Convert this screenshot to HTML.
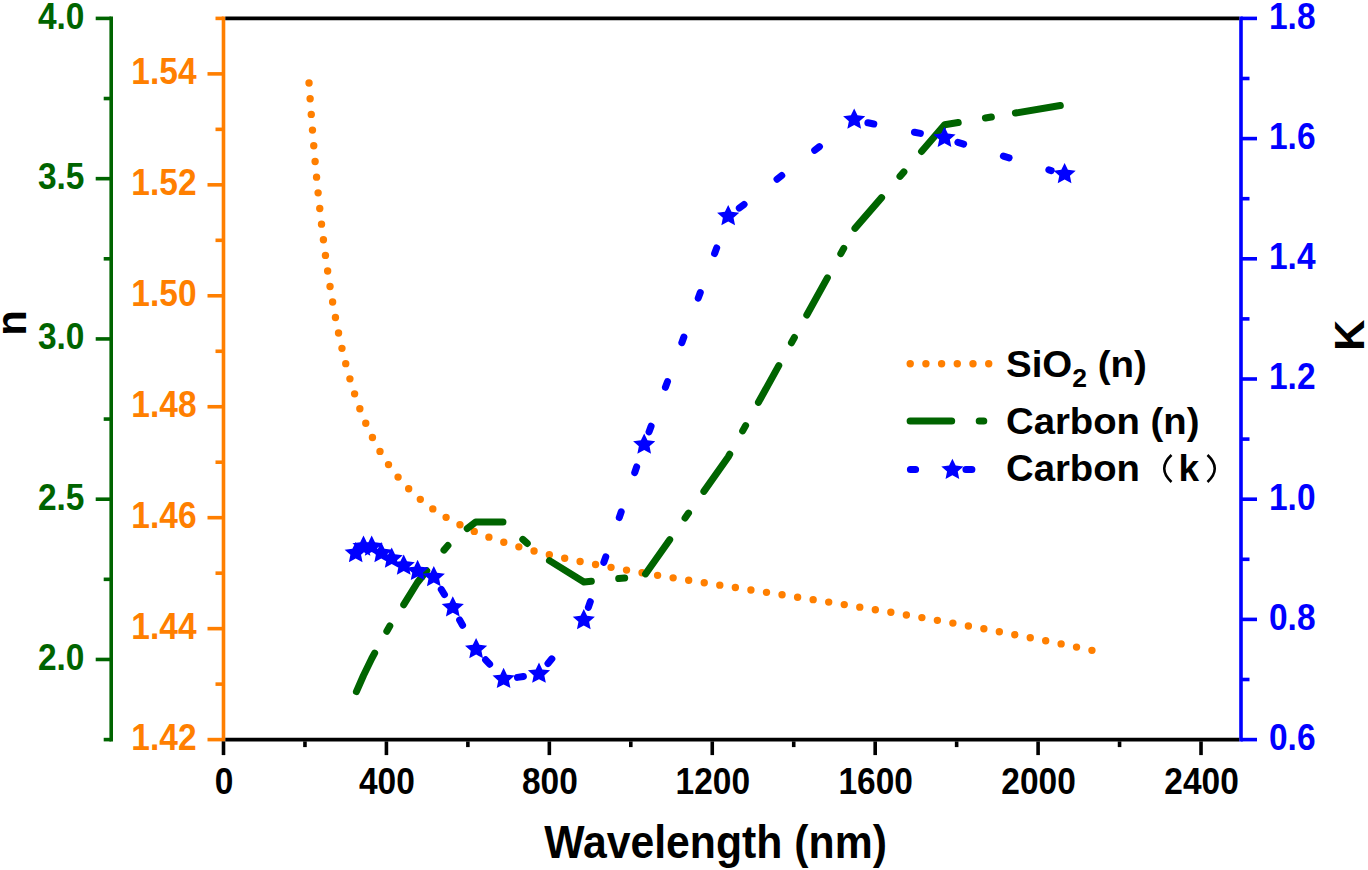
<!DOCTYPE html><html><head><meta charset="utf-8"><style>html,body{margin:0;padding:0;background:#fff;overflow:hidden;width:1368px;height:870px;}svg{display:block;}</style></head><body><svg width="1368" height="870" viewBox="0 0 1368 870">
<rect width="100%" height="100%" fill="#fff"/>
<path d="M309.03 82.99 L309.30 86.86 L309.56 90.68 L309.82 94.46 L310.08 98.18 L310.34 101.86 L310.61 105.49 L310.87 109.07 L311.13 112.61 L311.39 116.11 L311.65 119.56 L311.92 122.97 L312.18 126.34 L312.44 129.67 L312.70 132.96 L312.96 136.21 L313.23 139.41 L313.49 142.59 L313.75 145.72 L314.01 148.82 L314.28 151.88 L314.54 154.90 L314.80 157.89 L315.06 160.84 L315.32 163.76 L315.59 166.65 L315.85 169.51 L316.11 172.33 L316.37 175.12 L316.63 177.88 L316.90 180.61 L317.16 183.30 L317.42 185.97 L317.68 188.61 L317.94 191.22 L318.21 193.80 L318.47 196.36 L318.73 198.88 L318.99 201.38 L319.26 203.85 L319.52 206.30 L319.78 208.72 L320.04 211.11 L320.30 213.48 L320.57 215.83 L320.83 218.15 L321.09 220.44 L321.35 222.72 L321.61 224.96 L321.88 227.19 L322.14 229.39 L322.40 231.57 L322.66 233.73 L322.93 235.87 L323.19 237.99 L323.45 240.08 L323.71 242.15 L323.97 244.21 L324.24 246.24 L324.50 248.25 L324.76 250.25 L325.02 252.22 L325.28 254.17 L325.55 256.11 L325.81 258.03 L326.07 259.93 L326.33 261.81 L326.59 263.67 L326.86 265.52 L327.12 267.34 L327.38 269.15 L327.64 270.95 L327.91 272.72 L328.17 274.48 L328.43 276.23 L328.69 277.96 L328.95 279.67 L329.22 281.37 L329.48 283.05 L329.74 284.71 L330.00 286.36 L330.26 288.00 L330.53 289.62 L330.79 291.23 L331.05 292.82 L331.31 294.40 L331.58 295.96 L331.84 297.51 L332.10 299.05 L332.36 300.57 L332.62 302.08 L332.89 303.58 L333.15 305.07 L333.41 306.54 L333.67 308.00 L333.93 309.44 L334.20 310.88 L334.46 312.30 L334.72 313.71 L334.98 315.10 L335.24 316.49 L335.51 317.86 L335.77 319.23 L336.03 320.58 L336.29 321.92 L336.56 323.25 L336.82 324.57 L337.08 325.87 L337.34 327.17 L337.60 328.46 L337.87 329.73 L338.13 331.00 L338.39 332.25 L338.65 333.50 L338.91 334.73 L339.18 335.95 L339.44 337.17 L339.70 338.37 L339.96 339.57 L340.22 340.76 L340.49 341.93 L340.75 343.10 L341.01 344.26 L341.27 345.41 L341.54 346.55 L341.80 347.68 L342.06 348.80 L342.32 349.92 L342.58 351.02 L342.85 352.12 L343.11 353.21 L343.37 354.29 L343.63 355.36 L343.89 356.43 L344.16 357.48 L344.42 358.53 L344.68 359.57 L344.94 360.60 L345.21 361.63 L345.47 362.65 L345.73 363.66 L345.99 364.66 L346.25 365.65 L346.52 366.64 L346.78 367.62 L347.04 368.59 L347.30 369.56 L347.56 370.52 L347.83 371.47 L348.09 372.42 L348.35 373.35 L348.61 374.29 L348.87 375.21 L349.14 376.13 L349.40 377.04 L349.66 377.95 L349.92 378.85 L350.19 379.74 L350.45 380.62 L350.71 381.50 L350.97 382.38 L351.23 383.25 L351.50 384.11 L351.76 384.96 L352.02 385.81 L352.28 386.66 L352.54 387.49 L352.81 388.33 L353.07 389.15 L353.33 389.97 L353.59 390.79 L353.86 391.60 L354.12 392.40 L354.38 393.20 L354.64 394.00 L354.90 394.78 L355.17 395.57 L355.43 396.34 L355.69 397.12 L355.95 397.88 L356.21 398.65 L356.48 399.40 L356.74 400.16 L357.00 400.90 L357.26 401.65 L357.52 402.38 L357.79 403.12 L358.05 403.84 L358.31 404.57 L358.57 405.29 L358.84 406.00 L359.10 406.71 L359.36 407.41 L359.62 408.11 L359.88 408.81 L360.15 409.50 L360.41 410.19 L360.67 410.87 L360.93 411.55 L361.19 412.22 L361.46 412.89 L361.72 413.56 L361.98 414.22 L362.24 414.87 L362.50 415.53 L362.77 416.18 L363.03 416.82 L363.29 417.46 L363.55 418.10 L363.82 418.73 L364.08 419.36 L364.34 419.99 L364.60 420.61 L364.86 421.22 L365.13 421.84 L365.39 422.45 L365.65 423.05 L365.91 423.66 L366.17 424.26 L366.44 424.85 L366.70 425.44 L366.96 426.03 L367.22 426.62 L367.49 427.20 L367.75 427.78 L368.01 428.35 L368.27 428.92 L368.53 429.49 L368.80 430.05 L369.06 430.62 L369.32 431.17 L369.58 431.73 L369.84 432.28 L370.11 432.83 L370.37 433.37 L370.63 433.91 L370.89 434.45 L371.15 434.99 L371.42 435.52 L371.68 436.05 L371.94 436.58 L372.20 437.10 L372.47 437.62 L372.73 438.14 L372.99 438.65 L373.25 439.16 L373.51 439.67 L373.78 440.18 L374.04 440.68 L374.30 441.18 L374.56 441.68 L374.82 442.17 L375.09 442.66 L375.35 443.15 L375.61 443.64 L375.87 444.12 L376.13 444.60 L376.40 445.08 L376.66 445.56 L376.92 446.03 L377.18 446.50 L377.45 446.97 L377.71 447.43 L377.97 447.90 L378.23 448.36 L378.49 448.82 L378.76 449.27 L379.02 449.72 L379.28 450.17 L379.54 450.62 L379.80 451.07 L380.07 451.51 L380.33 451.95 L380.59 452.39 L380.85 452.83 L381.12 453.26 L381.38 453.69 L381.64 454.12 L381.90 454.55 L382.16 454.97 L382.43 455.40 L382.69 455.82 L382.95 456.23 L383.21 456.65 L383.47 457.06 L383.74 457.48 L384.00 457.89 L384.26 458.29 L384.52 458.70 L384.78 459.10 L385.05 459.50 L385.31 459.90 L385.57 460.30 L385.83 460.69 L386.10 461.09 L386.36 461.48 L386.62 461.87 L386.88 462.25 L387.14 462.64 L387.41 463.02 L387.67 463.40 L387.93 463.78 L388.19 464.16 L388.45 464.54 L388.72 464.91 L388.98 465.28 L389.24 465.65 L389.50 466.02 L389.77 466.39 L390.03 466.75 L390.29 467.11 L390.55 467.48 L390.81 467.83 L391.08 468.19 L391.34 468.55 L391.60 468.90 L391.86 469.25 L392.12 469.60 L392.39 469.95 L392.65 470.30 L392.91 470.65 L393.17 470.99 L393.43 471.33 L393.70 471.67 L393.96 472.01 L394.22 472.35 L394.48 472.69 L394.75 473.02 L395.01 473.35 L395.27 473.68 L395.53 474.01 L395.79 474.34 L396.06 474.67 L396.32 474.99 L396.58 475.31 L396.84 475.64 L397.10 475.96 L397.37 476.28 L397.63 476.59 L397.89 476.91 L398.15 477.22 L398.41 477.54 L398.68 477.85 L398.94 478.16 L399.20 478.47 L399.46 478.77 L399.73 479.08 L399.99 479.38 L400.25 479.69 L400.51 479.99 L400.77 480.29 L401.04 480.59 L401.30 480.88 L401.56 481.18 L401.82 481.47 L402.08 481.77 L402.35 482.06 L402.61 482.35 L402.87 482.64 L403.13 482.93 L403.40 483.22 L403.66 483.50 L403.92 483.79 L404.18 484.07 L404.44 484.35 L404.71 484.63 L404.97 484.91 L405.23 485.19 L405.49 485.47 L405.75 485.74 L406.02 486.02 L406.28 486.29 L406.54 486.56 L406.80 486.83 L407.06 487.10 L407.33 487.37 L407.59 487.64 L407.85 487.91 L408.11 488.17 L408.38 488.44 L408.64 488.70 L408.90 488.96 L409.16 489.22 L409.42 489.48 L409.69 489.74 L409.95 490.00 L410.21 490.25 L410.47 490.51 L410.73 490.76 L411.00 491.02 L411.26 491.27 L411.52 491.52 L411.78 491.77 L412.04 492.02 L412.31 492.27 L412.57 492.51 L412.83 492.76 L413.09 493.00 L413.36 493.25 L413.62 493.49 L413.88 493.73 L414.14 493.97 L414.40 494.21 L414.67 494.45 L414.93 494.69 L415.19 494.92 L415.45 495.16 L415.71 495.40 L415.98 495.63 L416.24 495.86 L416.50 496.09 L416.76 496.33 L417.03 496.56 L417.29 496.78 L417.55 497.01 L417.81 497.24 L418.07 497.47 L418.34 497.69 L418.60 497.92 L418.86 498.14 L419.12 498.36 L419.38 498.59 L419.65 498.81 L419.91 499.03 L420.17 499.25 L420.43 499.47 L420.69 499.68 L420.96 499.90 L421.22 500.12 L421.48 500.33 L421.74 500.54 L422.01 500.76 L422.27 500.97 L422.53 501.18 L422.79 501.39 L423.05 501.60 L423.32 501.81 L423.58 502.02 L423.84 502.23 L424.10 502.44 L424.36 502.64 L424.63 502.85 L424.89 503.05 L425.15 503.26 L425.41 503.46 L425.68 503.66 L425.94 503.86 L426.20 504.06 L426.46 504.26 L426.72 504.46 L426.99 504.66 L427.25 504.86 L427.51 505.06 L427.77 505.25 L428.03 505.45 L428.30 505.64 L428.56 505.84 L428.82 506.03 L429.08 506.22 L429.34 506.41 L429.61 506.61 L429.87 506.80 L430.13 506.99 L430.39 507.18 L430.66 507.36 L430.92 507.55 L431.18 507.74 L431.44 507.93 L431.70 508.11 L431.97 508.30 L432.23 508.48 L432.49 508.66 L432.75 508.85 L433.01 509.03 L433.28 509.21 L433.54 509.39 L433.80 509.57 L434.06 509.75 L434.32 509.93 L434.59 510.11 L434.85 510.29 L435.11 510.46 L435.37 510.64 L435.64 510.82 L435.90 510.99 L436.16 511.17 L436.42 511.34 L436.68 511.51 L436.95 511.69 L437.21 511.86 L437.47 512.03 L437.73 512.20 L437.99 512.37 L438.26 512.54 L438.52 512.71 L438.78 512.88 L439.04 513.05 L439.31 513.22 L439.57 513.38 L439.83 513.55 L440.09 513.72 L440.35 513.88 L440.62 514.05 L440.88 514.21 L441.14 514.37 L441.40 514.54 L441.66 514.70 L441.93 514.86 L442.19 515.02 L442.45 515.18 L442.71 515.34 L442.97 515.50 L443.24 515.66 L443.50 515.82 L443.76 515.98 L444.02 516.14 L444.29 516.29 L444.55 516.45 L444.81 516.61 L445.07 516.76 L445.33 516.92 L445.60 517.07 L445.86 517.22 L446.12 517.38 L446.38 517.53 L446.64 517.68 L446.91 517.84 L447.17 517.99 L447.43 518.14 L447.69 518.29 L447.96 518.44 L448.22 518.59 L448.48 518.74 L448.74 518.89 L449.00 519.03 L449.27 519.18 L449.53 519.33 L449.79 519.48 L450.05 519.62 L450.31 519.77 L450.58 519.91 L450.84 520.06 L451.10 520.20 L451.36 520.35 L451.62 520.49 L451.89 520.63 L452.15 520.77 L452.41 520.92 L452.67 521.06 L452.94 521.20 L453.20 521.34 L453.46 521.48 L453.72 521.62 L453.98 521.76 L454.25 521.90 L454.51 522.04 L454.77 522.17 L455.03 522.31 L455.29 522.45 L455.56 522.59 L455.82 522.72 L456.08 522.86 L456.34 522.99 L456.60 523.13 L456.87 523.26 L457.13 523.40 L457.39 523.53 L457.65 523.67 L457.92 523.80 L458.18 523.93 L458.44 524.06 L458.70 524.20 L458.96 524.33 L459.23 524.46 L459.49 524.59 L459.75 524.72 L460.01 524.85 L460.27 524.98 L460.54 525.11 L460.80 525.24 L461.06 525.37 L461.32 525.49 L461.59 525.62 L461.85 525.75 L462.11 525.88 L462.37 526.00 L462.63 526.13 L462.90 526.25 L463.16 526.38 L463.42 526.50 L463.68 526.63 L463.94 526.75 L464.21 526.88 L464.47 527.00 L464.73 527.12 L464.99 527.25 L465.25 527.37 L465.52 527.49 L465.78 527.61 L466.04 527.74 L466.30 527.86 L466.57 527.98 L466.83 528.10 L467.09 528.22 L467.35 528.34 L467.61 528.46 L467.88 528.58 L468.14 528.70 L468.40 528.81 L468.66 528.93 L468.92 529.05 L469.19 529.17 L469.45 529.28 L469.71 529.40 L469.97 529.52 L470.23 529.63 L470.50 529.75 L470.76 529.86 L471.02 529.98 L471.28 530.09 L471.55 530.21 L471.81 530.32 L472.07 530.44 L472.33 530.55 L472.59 530.66 L472.86 530.78 L473.12 530.89 L473.38 531.00 L473.64 531.11 L473.90 531.23 L474.17 531.34 L474.43 531.45 L474.69 531.56 L474.95 531.67 L475.22 531.78 L475.48 531.89 L475.74 532.00 L476.00 532.11 L476.26 532.22 L476.53 532.33 L476.79 532.44 L477.05 532.54 L477.31 532.65 L477.57 532.76 L477.84 532.87 L478.10 532.97 L478.36 533.08 L478.62 533.19 L478.88 533.29 L479.15 533.40 L479.41 533.51 L479.67 533.61 L479.93 533.72 L480.20 533.82 L480.46 533.93 L480.72 534.03 L480.98 534.13 L481.24 534.24 L481.51 534.34 L481.77 534.44 L482.03 534.55 L482.29 534.65 L482.55 534.75 L482.82 534.85 L483.08 534.96 L483.34 535.06 L483.60 535.16 L483.87 535.26 L484.13 535.36 L484.39 535.46 L484.65 535.56 L484.91 535.66 L485.18 535.76 L485.44 535.86 L485.70 535.96 L485.96 536.06 L486.22 536.16 L486.49 536.26 L486.75 536.36 L487.01 536.46 L487.27 536.55 L487.53 536.65 L487.80 536.75 L488.06 536.85 L488.32 536.94 L488.58 537.04 L488.85 537.14 L489.11 537.23 L489.37 537.33 L489.63 537.42 L489.89 537.52 L490.16 537.62 L490.42 537.71 L490.68 537.81 L490.94 537.90 L491.20 538.00 L491.47 538.09 L491.73 538.18 L491.99 538.28 L492.25 538.37 L492.51 538.46 L492.78 538.56 L493.04 538.65 L493.30 538.74 L493.56 538.84 L493.83 538.93 L494.09 539.02 L494.35 539.11 L494.61 539.20 L494.87 539.29 L495.14 539.39 L495.40 539.48 L495.66 539.57 L495.92 539.66 L496.18 539.75 L496.45 539.84 L496.71 539.93 L496.97 540.02 L497.23 540.11 L497.50 540.20 L497.76 540.29 L498.02 540.37 L498.28 540.46 L498.54 540.55 L498.81 540.64 L499.07 540.73 L499.33 540.82 L499.59 540.90 L499.85 540.99 L500.12 541.08 L500.38 541.17 L500.64 541.25 L500.90 541.34 L501.16 541.43 L501.43 541.51 L501.69 541.60 L501.95 541.69 L502.21 541.77 L502.48 541.86 L502.74 541.94 L503.00 542.03 L503.26 542.11 L503.52 542.20 L503.79 542.28 L504.05 542.37 L504.31 542.45 L504.57 542.53 L504.83 542.62 L505.10 542.70 L505.36 542.79 L505.62 542.87 L505.88 542.95 L506.15 543.04 L506.41 543.12 L506.67 543.20 L506.93 543.28 L507.19 543.37 L507.46 543.45 L507.72 543.53 L507.98 543.61 L508.24 543.69 L508.50 543.78 L508.77 543.86 L509.03 543.94 L509.29 544.02 L509.55 544.10 L509.81 544.18 L510.08 544.26 L510.34 544.34 L510.60 544.42 L510.86 544.50 L511.13 544.58 L511.39 544.66 L511.65 544.74 L511.91 544.82 L512.17 544.90 L512.44 544.98 L512.70 545.06 L512.96 545.14 L513.22 545.21 L513.48 545.29 L513.75 545.37 L514.01 545.45 L514.27 545.53 L514.53 545.60 L514.79 545.68 L515.06 545.76 L515.32 545.84 L515.58 545.91 L515.84 545.99 L516.11 546.07 L516.37 546.14 L516.63 546.22 L516.89 546.30 L517.15 546.37 L517.42 546.45 L517.68 546.53 L517.94 546.60 L518.20 546.68 L518.46 546.75 L518.73 546.83 L518.99 546.90 L519.25 546.98 L519.51 547.05 L519.78 547.13 L520.04 547.20 L520.30 547.28 L520.56 547.35 L520.82 547.43 L521.09 547.50 L521.35 547.57 L521.61 547.65 L521.87 547.72 L522.13 547.79 L522.40 547.87 L522.66 547.94 L522.92 548.01 L523.18 548.09 L523.44 548.16 L523.71 548.23 L523.97 548.30 L524.23 548.38 L524.49 548.45 L524.76 548.52 L525.02 548.59 L525.28 548.67 L525.54 548.74 L525.80 548.81 L526.07 548.88 L526.33 548.95 L526.59 549.02 L526.85 549.09 L527.11 549.16 L527.38 549.24 L527.64 549.31 L527.90 549.38 L528.16 549.45 L528.42 549.52 L528.69 549.59 L528.95 549.66 L529.21 549.73 L529.47 549.80 L529.74 549.87 L530.00 549.94 L530.26 550.01 L530.52 550.08 L530.78 550.15 L531.05 550.21 L531.31 550.28 L531.57 550.35 L531.83 550.42 L532.09 550.49 L532.36 550.56 L532.62 550.63 L532.88 550.70 L533.14 550.76 L533.41 550.83 L533.67 550.90 L533.93 550.97 L534.19 551.03 L534.45 551.10 L534.72 551.17 L534.98 551.24 L535.24 551.30 L535.50 551.37 L535.76 551.44 L536.03 551.51 L536.29 551.57 L536.55 551.64 L536.81 551.71 L537.07 551.77 L537.34 551.84 L537.60 551.90 L537.86 551.97 L538.12 552.04 L538.39 552.10 L538.65 552.17 L538.91 552.23 L539.17 552.30 L539.43 552.37 L539.70 552.43 L539.96 552.50 L540.22 552.56 L540.48 552.63 L540.74 552.69 L541.01 552.76 L541.27 552.82 L541.53 552.89 L541.79 552.95 L542.06 553.01 L542.32 553.08 L542.58 553.14 L542.84 553.21 L543.10 553.27 L543.37 553.34 L543.63 553.40 L543.89 553.46 L544.15 553.53 L544.41 553.59 L544.68 553.65 L544.94 553.72 L545.20 553.78 L545.46 553.84 L545.72 553.91 L545.99 553.97 L546.25 554.03 L546.51 554.09 L546.77 554.16 L547.04 554.22 L547.30 554.28 L547.56 554.34 L547.82 554.41 L548.08 554.47 L548.35 554.53 L548.61 554.59 L548.87 554.66 L549.13 554.72 L549.39 554.78 L549.66 554.84 L549.92 554.90 L550.18 554.96 L550.44 555.02 L550.70 555.09 L550.97 555.15 L551.23 555.21 L551.49 555.27 L551.75 555.33 L552.02 555.39 L552.28 555.45 L552.54 555.51 L552.80 555.57 L553.06 555.63 L553.33 555.69 L553.59 555.75 L553.85 555.81 L554.11 555.87 L554.37 555.93 L554.64 555.99 L554.90 556.05 L555.16 556.11 L555.42 556.17 L555.69 556.23 L555.95 556.29 L556.21 556.35 L556.47 556.41 L556.73 556.47 L557.00 556.53 L557.26 556.59 L557.52 556.65 L557.78 556.71 L558.04 556.77 L558.31 556.83 L558.57 556.88 L558.83 556.94 L559.09 557.00 L559.35 557.06 L559.62 557.12 L559.88 557.18 L560.14 557.24 L560.40 557.29 L560.67 557.35 L560.93 557.41 L561.19 557.47 L561.45 557.53 L561.71 557.58 L561.98 557.64 L562.24 557.70 L562.50 557.76 L562.76 557.81 L563.02 557.87 L563.29 557.93 L563.55 557.99 L563.81 558.04 L564.07 558.10 L564.33 558.16 L564.60 558.21 L564.86 558.27 L565.12 558.33 L565.38 558.38 L565.65 558.44 L565.91 558.50 L566.17 558.55 L566.43 558.61 L566.69 558.67 L566.96 558.72 L567.22 558.78 L567.48 558.84 L567.74 558.89 L568.00 558.95 L568.27 559.00 L568.53 559.06 L568.79 559.12 L569.05 559.17 L569.32 559.23 L569.58 559.28 L569.84 559.34 L570.10 559.39 L570.36 559.45 L570.63 559.50 L570.89 559.56 L571.15 559.61 L571.41 559.67 L571.67 559.72 L571.94 559.78 L572.20 559.83 L572.46 559.89 L572.72 559.94 L572.98 560.00 L573.25 560.05 L573.51 560.11 L573.77 560.16 L574.03 560.22 L574.30 560.27 L574.56 560.33 L574.82 560.38 L575.08 560.44 L575.34 560.49 L575.61 560.54 L575.87 560.60 L576.13 560.65 L576.39 560.71 L576.65 560.76 L576.92 560.81 L577.18 560.87 L577.44 560.92 L577.70 560.97 L577.97 561.03 L578.23 561.08 L578.49 561.13 L578.75 561.19 L579.01 561.24 L579.28 561.29 L579.54 561.35 L579.80 561.40 L580.06 561.45 L580.32 561.51 L580.59 561.56 L580.85 561.61 L581.11 561.67 L581.37 561.72 L581.63 561.77 L581.90 561.82 L582.16 561.88 L582.42 561.93 L582.68 561.98 L582.95 562.03 L583.21 562.09 L583.47 562.14 L583.73 562.19 L583.99 562.24 L584.26 562.30 L584.52 562.35 L584.78 562.40 L585.04 562.45 L585.30 562.50 L585.57 562.56 L585.83 562.61 L586.09 562.66 L586.35 562.71 L586.61 562.76 L586.88 562.81 L587.14 562.87 L587.40 562.92 L587.66 562.97 L587.93 563.02 L588.19 563.07 L588.45 563.12 L588.71 563.17 L588.97 563.23 L589.24 563.28 L589.50 563.33 L589.76 563.38 L590.02 563.43 L590.28 563.48 L590.55 563.53 L590.81 563.58 L591.07 563.63 L591.33 563.68 L591.60 563.73 L591.86 563.79 L592.12 563.84 L592.38 563.89 L592.64 563.94 L592.91 563.99 L593.17 564.04 L593.43 564.09 L593.69 564.14 L593.95 564.19 L594.22 564.24 L594.48 564.29 L594.74 564.34 L595.00 564.39 L595.26 564.44 L595.53 564.49 L595.79 564.54 L596.05 564.59 L596.31 564.64 L596.58 564.69 L596.84 564.74 L597.10 564.79 L597.36 564.84 L597.62 564.89 L597.89 564.94 L598.15 564.99 L598.41 565.04 L598.67 565.09 L598.93 565.13 L599.20 565.18 L599.46 565.23 L599.72 565.28 L599.98 565.33 L600.25 565.38 L600.51 565.43 L600.77 565.48 L601.03 565.53 L601.29 565.58 L601.56 565.63 L601.82 565.68 L602.08 565.72 L602.34 565.77 L602.60 565.82 L602.87 565.87 L603.13 565.92 L603.39 565.97 L603.65 566.02 L603.91 566.06 L604.18 566.11 L604.44 566.16 L604.70 566.21 L604.96 566.26 L605.23 566.31 L605.49 566.36 L605.75 566.40 L606.01 566.45 L606.27 566.50 L606.54 566.55 L606.80 566.60 L607.06 566.64 L607.32 566.69 L607.58 566.74 L607.85 566.79 L608.11 566.84 L608.37 566.88 L608.63 566.93 L608.89 566.98 L609.16 567.03 L609.42 567.08 L609.68 567.12 L609.94 567.17 L610.21 567.22 L610.47 567.27 L610.73 567.31 L610.99 567.36 L611.25 567.41 L611.52 567.46 L611.78 567.50 L612.04 567.55 L612.30 567.60 L612.56 567.65 L612.83 567.69 L613.09 567.74 L613.35 567.79 L613.61 567.83 L613.88 567.88 L614.14 567.93 L614.40 567.98 L614.66 568.02 L614.92 568.07 L615.19 568.12 L615.45 568.16 L615.71 568.21 L615.97 568.26 L616.23 568.30 L616.50 568.35 L616.76 568.40 L617.02 568.44 L617.28 568.49 L617.54 568.54 L617.81 568.58 L618.07 568.63 L618.33 568.68 L618.59 568.72 L618.86 568.77 L619.12 568.82 L619.38 568.86 L619.64 568.91 L619.90 568.96 L620.17 569.00 L620.43 569.05 L620.69 569.09 L620.95 569.14 L621.21 569.19 L621.48 569.23 L621.74 569.28 L622.00 569.32 L622.26 569.37 L622.52 569.42 L622.79 569.46 L623.05 569.51 L623.31 569.55 L623.57 569.60 L623.84 569.65 L624.10 569.69 L624.36 569.74 L624.62 569.78 L624.88 569.83 L625.15 569.88 L625.41 569.92 L625.67 569.97 L625.93 570.01 L626.19 570.06 L626.46 570.10 L626.72 570.15 L626.98 570.19 L627.24 570.24 L627.51 570.28 L627.77 570.33 L628.03 570.38 L628.29 570.42 L628.55 570.47 L628.82 570.51 L629.08 570.56 L629.34 570.60 L629.60 570.65 L629.86 570.69 L630.13 570.74 L630.39 570.78 L630.65 570.83 L630.91 570.87 L631.17 570.92 L631.44 570.96 L631.70 571.01 L631.96 571.05 L632.22 571.10 L632.49 571.14 L632.75 571.19 L633.01 571.23 L633.27 571.28 L633.53 571.32 L633.80 571.37 L634.06 571.41 L634.32 571.46 L634.58 571.50 L634.84 571.55 L635.11 571.59 L635.37 571.63 L635.63 571.68 L635.89 571.72 L636.16 571.77 L636.42 571.81 L636.68 571.86 L636.94 571.90 L637.20 571.95 L637.47 571.99 L637.73 572.04 L637.99 572.08 L638.25 572.12 L638.51 572.17 L638.78 572.21 L639.04 572.26 L639.30 572.30 L639.56 572.35 L639.82 572.39 L640.09 572.43 L640.35 572.48 L640.61 572.52 L640.87 572.57 L641.14 572.61 L641.40 572.65 L641.66 572.70 L641.92 572.74 L642.18 572.79 L642.45 572.83 L642.71 572.87 L642.97 572.92 L643.23 572.96 L643.49 573.01 L643.76 573.05 L644.02 573.09 L644.28 573.14 L644.54 573.18 L644.80 573.22 L645.07 573.27 L645.33 573.31 L645.59 573.36 L645.85 573.40 L646.12 573.44 L646.38 573.49 L646.64 573.53 L646.90 573.57 L647.16 573.62 L647.43 573.66 L647.69 573.70 L647.95 573.75 L648.21 573.79 L648.47 573.84 L648.74 573.88 L649.00 573.92 L649.26 573.97 L649.52 574.01 L649.79 574.05 L650.05 574.10 L650.31 574.14 L650.57 574.18 L650.83 574.23 L651.10 574.27 L651.36 574.31 L651.62 574.36 L651.88 574.40 L652.14 574.44 L652.41 574.48 L652.67 574.53 L652.93 574.57 L653.19 574.61 L653.45 574.66 L653.72 574.70 L653.98 574.74 L654.24 574.79 L654.50 574.83 L654.77 574.87 L655.03 574.92 L655.29 574.96 L655.55 575.00 L655.81 575.04 L656.08 575.09 L656.34 575.13 L656.60 575.17 L656.86 575.22 L657.12 575.26 L657.39 575.30 L657.65 575.34 L657.91 575.39 L658.17 575.43 L658.44 575.47 L658.70 575.52 L658.96 575.56 L659.22 575.60 L659.48 575.64 L659.75 575.69 L660.01 575.73 L660.27 575.77 L660.53 575.81 L660.79 575.86 L661.06 575.90 L661.32 575.94 L661.58 575.98 L661.84 576.03 L662.10 576.07 L662.37 576.11 L662.63 576.15 L662.89 576.20 L663.15 576.24 L663.42 576.28 L663.68 576.32 L663.94 576.37 L664.20 576.41 L664.46 576.45 L664.73 576.49 L664.99 576.54 L665.25 576.58 L665.51 576.62 L665.77 576.66 L666.04 576.70 L666.30 576.75 L666.56 576.79 L666.82 576.83 L667.08 576.87 L667.35 576.92 L667.61 576.96 L667.87 577.00 L668.13 577.04 L668.40 577.08 L668.66 577.13 L668.92 577.17 L669.18 577.21 L669.44 577.25 L669.71 577.29 L669.97 577.34 L670.23 577.38 L670.49 577.42 L670.75 577.46 L671.02 577.51 L671.28 577.55 L671.54 577.59 L671.80 577.63 L672.07 577.67 L672.33 577.71 L672.59 577.76 L672.85 577.80 L673.11 577.84 L673.38 577.88 L673.64 577.92 L673.90 577.97 L674.16 578.01 L674.42 578.05 L674.69 578.09 L674.95 578.13 L675.21 578.18 L675.47 578.22 L675.73 578.26 L676.00 578.30 L676.26 578.34 L676.52 578.38 L676.78 578.43 L677.05 578.47 L677.31 578.51 L677.57 578.55 L677.83 578.59 L678.09 578.63 L678.36 578.68 L678.62 578.72 L678.88 578.76 L679.14 578.80 L679.40 578.84 L679.67 578.88 L679.93 578.93 L680.19 578.97 L680.45 579.01 L680.71 579.05 L680.98 579.09 L681.24 579.13 L681.50 579.17 L681.76 579.22 L682.03 579.26 L682.29 579.30 L682.55 579.34 L682.81 579.38 L683.07 579.42 L683.34 579.47 L683.60 579.51 L683.86 579.55 L684.12 579.59 L684.38 579.63 L684.65 579.67 L684.91 579.71 L685.17 579.75 L685.43 579.80 L685.70 579.84 L685.96 579.88 L686.22 579.92 L686.48 579.96 L686.74 580.00 L687.01 580.04 L687.27 580.09 L687.53 580.13 L687.79 580.17 L688.05 580.21 L688.32 580.25 L688.58 580.29 L688.84 580.33 L689.10 580.37 L689.36 580.42 L689.63 580.46 L689.89 580.50 L690.15 580.54 L690.41 580.58 L690.68 580.62 L690.94 580.66 L691.20 580.70 L691.46 580.74 L691.72 580.79 L691.99 580.83 L692.25 580.87 L692.51 580.91 L692.77 580.95 L693.03 580.99 L693.30 581.03 L693.56 581.07 L693.82 581.11 L694.08 581.16 L694.35 581.20 L694.61 581.24 L694.87 581.28 L695.13 581.32 L695.39 581.36 L695.66 581.40 L695.92 581.44 L696.18 581.48 L696.44 581.52 L696.70 581.57 L696.97 581.61 L697.23 581.65 L697.49 581.69 L697.75 581.73 L698.01 581.77 L698.28 581.81 L698.54 581.85 L698.80 581.89 L699.06 581.93 L699.33 581.98 L699.59 582.02 L699.85 582.06 L700.11 582.10 L700.37 582.14 L700.64 582.18 L700.90 582.22 L701.16 582.26 L701.42 582.30 L701.68 582.34 L701.95 582.38 L702.21 582.42 L702.47 582.47 L702.73 582.51 L702.99 582.55 L703.26 582.59 L703.52 582.63 L703.78 582.67 L704.04 582.71 L704.31 582.75 L704.57 582.79 L704.83 582.83 L705.09 582.87 L705.35 582.91 L705.62 582.96 L705.88 583.00 L706.14 583.04 L706.40 583.08 L706.66 583.12 L706.93 583.16 L707.19 583.20 L707.45 583.24 L707.71 583.28 L707.98 583.32 L708.24 583.36 L708.50 583.40 L708.76 583.44 L709.02 583.48 L709.29 583.53 L709.55 583.57 L709.81 583.61 L710.07 583.65 L710.33 583.69 L710.60 583.73 L710.86 583.77 L711.12 583.81 L711.38 583.85 L711.64 583.89 L711.91 583.93 L712.17 583.97 L712.43 584.01 L712.69 584.05 L712.96 584.09 L713.22 584.13 L713.48 584.18 L713.74 584.22 L714.00 584.26 L714.27 584.30 L714.53 584.34 L714.79 584.38 L715.05 584.42 L715.31 584.46 L715.58 584.50 L715.84 584.54 L716.10 584.58 L716.36 584.62 L716.62 584.66 L716.89 584.70 L717.15 584.74 L717.41 584.78 L717.67 584.82 L717.94 584.86 L718.20 584.91 L718.46 584.95 L718.72 584.99 L718.98 585.03 L719.25 585.07 L719.51 585.11 L719.77 585.15 L720.03 585.19 L720.29 585.23 L720.56 585.27 L720.82 585.31 L721.08 585.35 L721.34 585.39 L721.61 585.43 L721.87 585.47 L722.13 585.51 L722.39 585.55 L722.65 585.59 L722.92 585.63 L723.18 585.67 L723.44 585.72 L723.70 585.76 L723.96 585.80 L724.23 585.84 L724.49 585.88 L724.75 585.92 L725.01 585.96 L725.27 586.00 L725.54 586.04 L725.80 586.08 L726.06 586.12 L726.32 586.16 L726.59 586.20 L726.85 586.24 L727.11 586.28 L727.37 586.32 L727.63 586.36 L727.90 586.40 L728.16 586.44 L728.42 586.48 L728.68 586.52 L728.94 586.56 L729.21 586.61 L729.47 586.65 L729.73 586.69 L729.99 586.73 L730.26 586.77 L730.52 586.81 L730.78 586.85 L731.04 586.89 L731.30 586.93 L731.57 586.97 L731.83 587.01 L732.09 587.05 L732.35 587.09 L732.61 587.13 L732.88 587.17 L733.14 587.21 L733.40 587.25 L733.66 587.29 L733.92 587.33 L734.19 587.37 L734.45 587.41 L734.71 587.45 L734.97 587.49 L735.24 587.53 L735.50 587.57 L735.76 587.62 L736.02 587.66 L736.28 587.70 L736.55 587.74 L736.81 587.78 L737.07 587.82 L737.33 587.86 L737.59 587.90 L737.86 587.94 L738.12 587.98 L738.38 588.02 L738.64 588.06 L738.90 588.10 L739.17 588.14 L739.43 588.18 L739.69 588.22 L739.95 588.26 L740.22 588.30 L740.48 588.34 L740.74 588.38 L741.00 588.42 L741.26 588.46 L741.53 588.50 L741.79 588.54 L742.05 588.58 L742.31 588.62 L742.57 588.67 L742.84 588.71 L743.10 588.75 L743.36 588.79 L743.62 588.83 L743.89 588.87 L744.15 588.91 L744.41 588.95 L744.67 588.99 L744.93 589.03 L745.20 589.07 L745.46 589.11 L745.72 589.15 L745.98 589.19 L746.24 589.23 L746.51 589.27 L746.77 589.31 L747.03 589.35 L747.29 589.39 L747.55 589.43 L747.82 589.47 L748.08 589.51 L748.34 589.55 L748.60 589.59 L748.87 589.63 L749.13 589.67 L749.39 589.71 L749.65 589.76 L749.91 589.80 L750.18 589.84 L750.44 589.88 L750.70 589.92 L750.96 589.96 L751.22 590.00 L751.49 590.04 L751.75 590.08 L752.01 590.12 L752.27 590.16 L752.54 590.20 L752.80 590.24 L753.06 590.28 L753.32 590.32 L753.58 590.36 L753.85 590.40 L754.11 590.44 L754.37 590.48 L754.63 590.52 L754.89 590.56 L755.16 590.60 L755.42 590.64 L755.68 590.68 L755.94 590.73 L756.20 590.77 L756.47 590.81 L756.73 590.85 L756.99 590.89 L757.25 590.93 L757.52 590.97 L757.78 591.01 L758.04 591.05 L758.30 591.09 L758.56 591.13 L758.83 591.17 L759.09 591.21 L759.35 591.25 L759.61 591.29 L759.87 591.33 L760.14 591.37 L760.40 591.41 L760.66 591.45 L760.92 591.49 L761.18 591.53 L761.45 591.57 L761.71 591.61 L761.97 591.66 L762.23 591.70 L762.50 591.74 L762.76 591.78 L763.02 591.82 L763.28 591.86 L763.54 591.90 L763.81 591.94 L764.07 591.98 L764.33 592.02 L764.59 592.06 L764.85 592.10 L765.12 592.14 L765.38 592.18 L765.64 592.22 L765.90 592.26 L766.17 592.30 L766.43 592.34 L766.69 592.38 L766.95 592.42 L767.21 592.47 L767.48 592.51 L767.74 592.55 L768.00 592.59 L768.26 592.63 L768.52 592.67 L768.79 592.71 L769.05 592.75 L769.31 592.79 L769.57 592.83 L769.83 592.87 L770.10 592.91 L770.36 592.95 L770.62 592.99 L770.88 593.03 L771.15 593.07 L771.41 593.11 L771.67 593.15 L771.93 593.20 L772.19 593.24 L772.46 593.28 L772.72 593.32 L772.98 593.36 L773.24 593.40 L773.50 593.44 L773.77 593.48 L774.03 593.52 L774.29 593.56 L774.55 593.60 L774.81 593.64 L775.08 593.68 L775.34 593.72 L775.60 593.76 L775.86 593.80 L776.13 593.85 L776.39 593.89 L776.65 593.93 L776.91 593.97 L777.17 594.01 L777.44 594.05 L777.70 594.09 L777.96 594.13 L778.22 594.17 L778.48 594.21 L778.75 594.25 L779.01 594.29 L779.27 594.33 L779.53 594.37 L779.80 594.41 L780.06 594.46 L780.32 594.50 L780.58 594.54 L780.84 594.58 L781.11 594.62 L781.37 594.66 L781.63 594.70 L781.89 594.74 L782.15 594.78 L782.42 594.82 L782.68 594.86 L782.94 594.90 L783.20 594.94 L783.46 594.98 L783.73 595.03 L783.99 595.07 L784.25 595.11 L784.51 595.15 L784.78 595.19 L785.04 595.23 L785.30 595.27 L785.56 595.31 L785.82 595.35 L786.09 595.39 L786.35 595.43 L786.61 595.47 L786.87 595.52 L787.13 595.56 L787.40 595.60 L787.66 595.64 L787.92 595.68 L788.18 595.72 L788.45 595.76 L788.71 595.80 L788.97 595.84 L789.23 595.88 L789.49 595.92 L789.76 595.96 L790.02 596.01 L790.28 596.05 L790.54 596.09 L790.80 596.13 L791.07 596.17 L791.33 596.21 L791.59 596.25 L791.85 596.29 L792.11 596.33 L792.38 596.37 L792.64 596.41 L792.90 596.46 L793.16 596.50 L793.43 596.54 L793.69 596.58 L793.95 596.62 L794.21 596.66 L794.47 596.70 L794.74 596.74 L795.00 596.78 L795.26 596.82 L795.52 596.87 L795.78 596.91 L796.05 596.95 L796.31 596.99 L796.57 597.03 L796.83 597.07 L797.09 597.11 L797.36 597.15 L797.62 597.19 L797.88 597.23 L798.14 597.28 L798.41 597.32 L798.67 597.36 L798.93 597.40 L799.19 597.44 L799.45 597.48 L799.72 597.52 L799.98 597.56 L800.24 597.60 L800.50 597.65 L800.76 597.69 L801.03 597.73 L801.29 597.77 L801.55 597.81 L801.81 597.85 L802.08 597.89 L802.34 597.93 L802.60 597.97 L802.86 598.02 L803.12 598.06 L803.39 598.10 L803.65 598.14 L803.91 598.18 L804.17 598.22 L804.43 598.26 L804.70 598.30 L804.96 598.35 L805.22 598.39 L805.48 598.43 L805.74 598.47 L806.01 598.51 L806.27 598.55 L806.53 598.59 L806.79 598.63 L807.06 598.68 L807.32 598.72 L807.58 598.76 L807.84 598.80 L808.10 598.84 L808.37 598.88 L808.63 598.92 L808.89 598.96 L809.15 599.01 L809.41 599.05 L809.68 599.09 L809.94 599.13 L810.20 599.17 L810.46 599.21 L810.73 599.25 L810.99 599.30 L811.25 599.34 L811.51 599.38 L811.77 599.42 L812.04 599.46 L812.30 599.50 L812.56 599.54 L812.82 599.58 L813.08 599.63 L813.35 599.67 L813.61 599.71 L813.87 599.75 L814.13 599.79 L814.39 599.83 L814.66 599.88 L814.92 599.92 L815.18 599.96 L815.44 600.00 L815.71 600.04 L815.97 600.08 L816.23 600.12 L816.49 600.17 L816.75 600.21 L817.02 600.25 L817.28 600.29 L817.54 600.33 L817.80 600.37 L818.06 600.41 L818.33 600.46 L818.59 600.50 L818.85 600.54 L819.11 600.58 L819.37 600.62 L819.64 600.66 L819.90 600.71 L820.16 600.75 L820.42 600.79 L820.69 600.83 L820.95 600.87 L821.21 600.91 L821.47 600.96 L821.73 601.00 L822.00 601.04 L822.26 601.08 L822.52 601.12 L822.78 601.16 L823.04 601.21 L823.31 601.25 L823.57 601.29 L823.83 601.33 L824.09 601.37 L824.36 601.41 L824.62 601.46 L824.88 601.50 L825.14 601.54 L825.40 601.58 L825.67 601.62 L825.93 601.67 L826.19 601.71 L826.45 601.75 L826.71 601.79 L826.98 601.83 L827.24 601.87 L827.50 601.92 L827.76 601.96 L828.02 602.00 L828.29 602.04 L828.55 602.08 L828.81 602.13 L829.07 602.17 L829.34 602.21 L829.60 602.25 L829.86 602.29 L830.12 602.34 L830.38 602.38 L830.65 602.42 L830.91 602.46 L831.17 602.50 L831.43 602.55 L831.69 602.59 L831.96 602.63 L832.22 602.67 L832.48 602.71 L832.74 602.75 L833.00 602.80 L833.27 602.84 L833.53 602.88 L833.79 602.92 L834.05 602.97 L834.32 603.01 L834.58 603.05 L834.84 603.09 L835.10 603.13 L835.36 603.18 L835.63 603.22 L835.89 603.26 L836.15 603.30 L836.41 603.34 L836.67 603.39 L836.94 603.43 L837.20 603.47 L837.46 603.51 L837.72 603.55 L837.99 603.60 L838.25 603.64 L838.51 603.68 L838.77 603.72 L839.03 603.77 L839.30 603.81 L839.56 603.85 L839.82 603.89 L840.08 603.93 L840.34 603.98 L840.61 604.02 L840.87 604.06 L841.13 604.10 L841.39 604.15 L841.65 604.19 L841.92 604.23 L842.18 604.27 L842.44 604.32 L842.70 604.36 L842.97 604.40 L843.23 604.44 L843.49 604.48 L843.75 604.53 L844.01 604.57 L844.28 604.61 L844.54 604.65 L844.80 604.70 L845.06 604.74 L845.32 604.78 L845.59 604.82 L845.85 604.87 L846.11 604.91 L846.37 604.95 L846.64 604.99 L846.90 605.04 L847.16 605.08 L847.42 605.12 L847.68 605.16 L847.95 605.21 L848.21 605.25 L848.47 605.29 L848.73 605.33 L848.99 605.38 L849.26 605.42 L849.52 605.46 L849.78 605.50 L850.04 605.55 L850.30 605.59 L850.57 605.63 L850.83 605.67 L851.09 605.72 L851.35 605.76 L851.62 605.80 L851.88 605.85 L852.14 605.89 L852.40 605.93 L852.66 605.97 L852.93 606.02 L853.19 606.06 L853.45 606.10 L853.71 606.14 L853.97 606.19 L854.24 606.23 L854.50 606.27 L854.76 606.32 L855.02 606.36 L855.28 606.40 L855.55 606.44 L855.81 606.49 L856.07 606.53 L856.33 606.57 L856.60 606.62 L856.86 606.66 L857.12 606.70 L857.38 606.74 L857.64 606.79 L857.91 606.83 L858.17 606.87 L858.43 606.92 L858.69 606.96 L858.95 607.00 L859.22 607.04 L859.48 607.09 L859.74 607.13 L860.00 607.17 L860.27 607.22 L860.53 607.26 L860.79 607.30 L861.05 607.34 L861.31 607.39 L861.58 607.43 L861.84 607.47 L862.10 607.52 L862.36 607.56 L862.62 607.60 L862.89 607.65 L863.15 607.69 L863.41 607.73 L863.67 607.78 L863.93 607.82 L864.20 607.86 L864.46 607.91 L864.72 607.95 L864.98 607.99 L865.25 608.03 L865.51 608.08 L865.77 608.12 L866.03 608.16 L866.29 608.21 L866.56 608.25 L866.82 608.29 L867.08 608.34 L867.34 608.38 L867.60 608.42 L867.87 608.47 L868.13 608.51 L868.39 608.55 L868.65 608.60 L868.91 608.64 L869.18 608.68 L869.44 608.73 L869.70 608.77 L869.96 608.81 L870.23 608.86 L870.49 608.90 L870.75 608.94 L871.01 608.99 L871.27 609.03 L871.54 609.07 L871.80 609.12 L872.06 609.16 L872.32 609.20 L872.58 609.25 L872.85 609.29 L873.11 609.33 L873.37 609.38 L873.63 609.42 L873.90 609.47 L874.16 609.51 L874.42 609.55 L874.68 609.60 L874.94 609.64 L875.21 609.68 L875.47 609.73 L875.73 609.77 L875.99 609.81 L876.25 609.86 L876.52 609.90 L876.78 609.94 L877.04 609.99 L877.30 610.03 L877.56 610.08 L877.83 610.12 L878.09 610.16 L878.35 610.21 L878.61 610.25 L878.88 610.29 L879.14 610.34 L879.40 610.38 L879.66 610.43 L879.92 610.47 L880.19 610.51 L880.45 610.56 L880.71 610.60 L880.97 610.64 L881.23 610.69 L881.50 610.73 L881.76 610.78 L882.02 610.82 L882.28 610.86 L882.55 610.91 L882.81 610.95 L883.07 611.00 L883.33 611.04 L883.59 611.08 L883.86 611.13 L884.12 611.17 L884.38 611.21 L884.64 611.26 L884.90 611.30 L885.17 611.35 L885.43 611.39 L885.69 611.43 L885.95 611.48 L886.21 611.52 L886.48 611.57 L886.74 611.61 L887.00 611.66 L887.26 611.70 L887.53 611.74 L887.79 611.79 L888.05 611.83 L888.31 611.88 L888.57 611.92 L888.84 611.96 L889.10 612.01 L889.36 612.05 L889.62 612.10 L889.88 612.14 L890.15 612.18 L890.41 612.23 L890.67 612.27 L890.93 612.32 L891.19 612.36 L891.46 612.41 L891.72 612.45 L891.98 612.49 L892.24 612.54 L892.51 612.58 L892.77 612.63 L893.03 612.67 L893.29 612.72 L893.55 612.76 L893.82 612.80 L894.08 612.85 L894.34 612.89 L894.60 612.94 L894.86 612.98 L895.13 613.03 L895.39 613.07 L895.65 613.12 L895.91 613.16 L896.18 613.20 L896.44 613.25 L896.70 613.29 L896.96 613.34 L897.22 613.38 L897.49 613.43 L897.75 613.47 L898.01 613.52 L898.27 613.56 L898.53 613.61 L898.80 613.65 L899.06 613.69 L899.32 613.74 L899.58 613.78 L899.84 613.83 L900.11 613.87 L900.37 613.92 L900.63 613.96 L900.89 614.01 L901.16 614.05 L901.42 614.10 L901.68 614.14 L901.94 614.19 L902.20 614.23 L902.47 614.28 L902.73 614.32 L902.99 614.37 L903.25 614.41 L903.51 614.45 L903.78 614.50 L904.04 614.54 L904.30 614.59 L904.56 614.63 L904.83 614.68 L905.09 614.72 L905.35 614.77 L905.61 614.81 L905.87 614.86 L906.14 614.90 L906.40 614.95 L906.66 614.99 L906.92 615.04 L907.18 615.08 L907.45 615.13 L907.71 615.17 L907.97 615.22 L908.23 615.26 L908.49 615.31 L908.76 615.35 L909.02 615.40 L909.28 615.44 L909.54 615.49 L909.81 615.53 L910.07 615.58 L910.33 615.62 L910.59 615.67 L910.85 615.71 L911.12 615.76 L911.38 615.80 L911.64 615.85 L911.90 615.90 L912.16 615.94 L912.43 615.99 L912.69 616.03 L912.95 616.08 L913.21 616.12 L913.47 616.17 L913.74 616.21 L914.00 616.26 L914.26 616.30 L914.52 616.35 L914.79 616.39 L915.05 616.44 L915.31 616.48 L915.57 616.53 L915.83 616.57 L916.10 616.62 L916.36 616.67 L916.62 616.71 L916.88 616.76 L917.14 616.80 L917.41 616.85 L917.67 616.89 L917.93 616.94 L918.19 616.98 L918.46 617.03 L918.72 617.07 L918.98 617.12 L919.24 617.17 L919.50 617.21 L919.77 617.26 L920.03 617.30 L920.29 617.35 L920.55 617.39 L920.81 617.44 L921.08 617.49 L921.34 617.53 L921.60 617.58 L921.86 617.62 L922.12 617.67 L922.39 617.71 L922.65 617.76 L922.91 617.81 L923.17 617.85 L923.44 617.90 L923.70 617.94 L923.96 617.99 L924.22 618.03 L924.48 618.08 L924.75 618.13 L925.01 618.17 L925.27 618.22 L925.53 618.26 L925.79 618.31 L926.06 618.35 L926.32 618.40 L926.58 618.45 L926.84 618.49 L927.10 618.54 L927.37 618.58 L927.63 618.63 L927.89 618.68 L928.15 618.72 L928.42 618.77 L928.68 618.81 L928.94 618.86 L929.20 618.91 L929.46 618.95 L929.73 619.00 L929.99 619.04 L930.25 619.09 L930.51 619.14 L930.77 619.18 L931.04 619.23 L931.30 619.28 L931.56 619.32 L931.82 619.37 L932.09 619.41 L932.35 619.46 L932.61 619.51 L932.87 619.55 L933.13 619.60 L933.40 619.64 L933.66 619.69 L933.92 619.74 L934.18 619.78 L934.44 619.83 L934.71 619.88 L934.97 619.92 L935.23 619.97 L935.49 620.02 L935.75 620.06 L936.02 620.11 L936.28 620.15 L936.54 620.20 L936.80 620.25 L937.07 620.29 L937.33 620.34 L937.59 620.39 L937.85 620.43 L938.11 620.48 L938.38 620.53 L938.64 620.57 L938.90 620.62 L939.16 620.67 L939.42 620.71 L939.69 620.76 L939.95 620.81 L940.21 620.85 L940.47 620.90 L940.74 620.95 L941.00 620.99 L941.26 621.04 L941.52 621.09 L941.78 621.13 L942.05 621.18 L942.31 621.23 L942.57 621.27 L942.83 621.32 L943.09 621.37 L943.36 621.41 L943.62 621.46 L943.88 621.51 L944.14 621.55 L944.40 621.60 L944.67 621.65 L944.93 621.69 L945.19 621.74 L945.45 621.79 L945.72 621.83 L945.98 621.88 L946.24 621.93 L946.50 621.97 L946.76 622.02 L947.03 622.07 L947.29 622.12 L947.55 622.16 L947.81 622.21 L948.07 622.26 L948.34 622.30 L948.60 622.35 L948.86 622.40 L949.12 622.44 L949.38 622.49 L949.65 622.54 L949.91 622.59 L950.17 622.63 L950.43 622.68 L950.70 622.73 L950.96 622.77 L951.22 622.82 L951.48 622.87 L951.74 622.92 L952.01 622.96 L952.27 623.01 L952.53 623.06 L952.79 623.10 L953.05 623.15 L953.32 623.20 L953.58 623.25 L953.84 623.29 L954.10 623.34 L954.37 623.39 L954.63 623.44 L954.89 623.48 L955.15 623.53 L955.41 623.58 L955.68 623.63 L955.94 623.67 L956.20 623.72 L956.46 623.77 L956.72 623.82 L956.99 623.86 L957.25 623.91 L957.51 623.96 L957.77 624.01 L958.03 624.05 L958.30 624.10 L958.56 624.15 L958.82 624.20 L959.08 624.24 L959.35 624.29 L959.61 624.34 L959.87 624.39 L960.13 624.43 L960.39 624.48 L960.66 624.53 L960.92 624.58 L961.18 624.62 L961.44 624.67 L961.70 624.72 L961.97 624.77 L962.23 624.82 L962.49 624.86 L962.75 624.91 L963.02 624.96 L963.28 625.01 L963.54 625.05 L963.80 625.10 L964.06 625.15 L964.33 625.20 L964.59 625.25 L964.85 625.29 L965.11 625.34 L965.37 625.39 L965.64 625.44 L965.90 625.49 L966.16 625.53 L966.42 625.58 L966.68 625.63 L966.95 625.68 L967.21 625.73 L967.47 625.77 L967.73 625.82 L968.00 625.87 L968.26 625.92 L968.52 625.97 L968.78 626.01 L969.04 626.06 L969.31 626.11 L969.57 626.16 L969.83 626.21 L970.09 626.25 L970.35 626.30 L970.62 626.35 L970.88 626.40 L971.14 626.45 L971.40 626.50 L971.66 626.54 L971.93 626.59 L972.19 626.64 L972.45 626.69 L972.71 626.74 L972.98 626.79 L973.24 626.83 L973.50 626.88 L973.76 626.93 L974.02 626.98 L974.29 627.03 L974.55 627.08 L974.81 627.12 L975.07 627.17 L975.33 627.22 L975.60 627.27 L975.86 627.32 L976.12 627.37 L976.38 627.42 L976.65 627.46 L976.91 627.51 L977.17 627.56 L977.43 627.61 L977.69 627.66 L977.96 627.71 L978.22 627.76 L978.48 627.80 L978.74 627.85 L979.00 627.90 L979.27 627.95 L979.53 628.00 L979.79 628.05 L980.05 628.10 L980.31 628.15 L980.58 628.19 L980.84 628.24 L981.10 628.29 L981.36 628.34 L981.63 628.39 L981.89 628.44 L982.15 628.49 L982.41 628.54 L982.67 628.59 L982.94 628.63 L983.20 628.68 L983.46 628.73 L983.72 628.78 L983.98 628.83 L984.25 628.88 L984.51 628.93 L984.77 628.98 L985.03 629.03 L985.29 629.07 L985.56 629.12 L985.82 629.17 L986.08 629.22 L986.34 629.27 L986.61 629.32 L986.87 629.37 L987.13 629.42 L987.39 629.47 L987.65 629.52 L987.92 629.57 L988.18 629.62 L988.44 629.66 L988.70 629.71 L988.96 629.76 L989.23 629.81 L989.49 629.86 L989.75 629.91 L990.01 629.96 L990.28 630.01 L990.54 630.06 L990.80 630.11 L991.06 630.16 L991.32 630.21 L991.59 630.26 L991.85 630.31 L992.11 630.36 L992.37 630.40 L992.63 630.45 L992.90 630.50 L993.16 630.55 L993.42 630.60 L993.68 630.65 L993.94 630.70 L994.21 630.75 L994.47 630.80 L994.73 630.85 L994.99 630.90 L995.26 630.95 L995.52 631.00 L995.78 631.05 L996.04 631.10 L996.30 631.15 L996.57 631.20 L996.83 631.25 L997.09 631.30 L997.35 631.35 L997.61 631.40 L997.88 631.45 L998.14 631.50 L998.40 631.55 L998.66 631.60 L998.93 631.65 L999.19 631.70 L999.45 631.75 L999.71 631.80 L999.97 631.85 L1000.24 631.90 L1000.50 631.94 L1000.76 631.99 L1001.02 632.04 L1001.28 632.09 L1001.55 632.14 L1001.81 632.19 L1002.07 632.24 L1002.33 632.29 L1002.59 632.34 L1002.86 632.39 L1003.12 632.44 L1003.38 632.50 L1003.64 632.55 L1003.91 632.60 L1004.17 632.65 L1004.43 632.70 L1004.69 632.75 L1004.95 632.80 L1005.22 632.85 L1005.48 632.90 L1005.74 632.95 L1006.00 633.00 L1006.26 633.05 L1006.53 633.10 L1006.79 633.15 L1007.05 633.20 L1007.31 633.25 L1007.57 633.30 L1007.84 633.35 L1008.10 633.40 L1008.36 633.45 L1008.62 633.50 L1008.89 633.55 L1009.15 633.60 L1009.41 633.65 L1009.67 633.70 L1009.93 633.75 L1010.20 633.80 L1010.46 633.85 L1010.72 633.90 L1010.98 633.95 L1011.24 634.00 L1011.51 634.06 L1011.77 634.11 L1012.03 634.16 L1012.29 634.21 L1012.56 634.26 L1012.82 634.31 L1013.08 634.36 L1013.34 634.41 L1013.60 634.46 L1013.87 634.51 L1014.13 634.56 L1014.39 634.61 L1014.65 634.66 L1014.91 634.71 L1015.18 634.76 L1015.44 634.82 L1015.70 634.87 L1015.96 634.92 L1016.22 634.97 L1016.49 635.02 L1016.75 635.07 L1017.01 635.12 L1017.27 635.17 L1017.54 635.22 L1017.80 635.27 L1018.06 635.32 L1018.32 635.38 L1018.58 635.43 L1018.85 635.48 L1019.11 635.53 L1019.37 635.58 L1019.63 635.63 L1019.89 635.68 L1020.16 635.73 L1020.42 635.78 L1020.68 635.84 L1020.94 635.89 L1021.20 635.94 L1021.47 635.99 L1021.73 636.04 L1021.99 636.09 L1022.25 636.14 L1022.52 636.19 L1022.78 636.24 L1023.04 636.30 L1023.30 636.35 L1023.56 636.40 L1023.83 636.45 L1024.09 636.50 L1024.35 636.55 L1024.61 636.60 L1024.87 636.66 L1025.14 636.71 L1025.40 636.76 L1025.66 636.81 L1025.92 636.86 L1026.19 636.91 L1026.45 636.96 L1026.71 637.02 L1026.97 637.07 L1027.23 637.12 L1027.50 637.17 L1027.76 637.22 L1028.02 637.27 L1028.28 637.32 L1028.54 637.38 L1028.81 637.43 L1029.07 637.48 L1029.33 637.53 L1029.59 637.58 L1029.85 637.63 L1030.12 637.69 L1030.38 637.74 L1030.64 637.79 L1030.90 637.84 L1031.17 637.89 L1031.43 637.94 L1031.69 638.00 L1031.95 638.05 L1032.21 638.10 L1032.48 638.15 L1032.74 638.20 L1033.00 638.26 L1033.26 638.31 L1033.52 638.36 L1033.79 638.41 L1034.05 638.46 L1034.31 638.52 L1034.57 638.57 L1034.84 638.62 L1035.10 638.67 L1035.36 638.72 L1035.62 638.78 L1035.88 638.83 L1036.15 638.88 L1036.41 638.93 L1036.67 638.98 L1036.93 639.04 L1037.19 639.09 L1037.46 639.14 L1037.72 639.19 L1037.98 639.24 L1038.24 639.30 L1038.50 639.35 L1038.77 639.40 L1039.03 639.45 L1039.29 639.51 L1039.55 639.56 L1039.82 639.61 L1040.08 639.66 L1040.34 639.71 L1040.60 639.77 L1040.86 639.82 L1041.13 639.87 L1041.39 639.92 L1041.65 639.98 L1041.91 640.03 L1042.17 640.08 L1042.44 640.13 L1042.70 640.19 L1042.96 640.24 L1043.22 640.29 L1043.48 640.34 L1043.75 640.40 L1044.01 640.45 L1044.27 640.50 L1044.53 640.55 L1044.80 640.61 L1045.06 640.66 L1045.32 640.71 L1045.58 640.76 L1045.84 640.82 L1046.11 640.87 L1046.37 640.92 L1046.63 640.98 L1046.89 641.03 L1047.15 641.08 L1047.42 641.13 L1047.68 641.19 L1047.94 641.24 L1048.20 641.29 L1048.47 641.34 L1048.73 641.40 L1048.99 641.45 L1049.25 641.50 L1049.51 641.56 L1049.78 641.61 L1050.04 641.66 L1050.30 641.72 L1050.56 641.77 L1050.82 641.82 L1051.09 641.87 L1051.35 641.93 L1051.61 641.98 L1051.87 642.03 L1052.13 642.09 L1052.40 642.14 L1052.66 642.19 L1052.92 642.25 L1053.18 642.30 L1053.45 642.35 L1053.71 642.41 L1053.97 642.46 L1054.23 642.51 L1054.49 642.56 L1054.76 642.62 L1055.02 642.67 L1055.28 642.72 L1055.54 642.78 L1055.80 642.83 L1056.07 642.88 L1056.33 642.94 L1056.59 642.99 L1056.85 643.04 L1057.12 643.10 L1057.38 643.15 L1057.64 643.20 L1057.90 643.26 L1058.16 643.31 L1058.43 643.37 L1058.69 643.42 L1058.95 643.47 L1059.21 643.53 L1059.47 643.58 L1059.74 643.63 L1060.00 643.69 L1060.26 643.74 L1060.52 643.79 L1060.78 643.85 L1061.05 643.90 L1061.31 643.95 L1061.57 644.01 L1061.83 644.06 L1062.10 644.12 L1062.36 644.17 L1062.62 644.22 L1062.88 644.28 L1063.14 644.33 L1063.41 644.38 L1063.67 644.44 L1063.93 644.49 L1064.19 644.55 L1064.45 644.60 L1064.72 644.65 L1064.98 644.71 L1065.24 644.76 L1065.50 644.82 L1065.76 644.87 L1066.03 644.92 L1066.29 644.98 L1066.55 645.03 L1066.81 645.09 L1067.08 645.14 L1067.34 645.19 L1067.60 645.25 L1067.86 645.30 L1068.12 645.36 L1068.39 645.41 L1068.65 645.46 L1068.91 645.52 L1069.17 645.57 L1069.43 645.63 L1069.70 645.68 L1069.96 645.73 L1070.22 645.79 L1070.48 645.84 L1070.75 645.90 L1071.01 645.95 L1071.27 646.01 L1071.53 646.06 L1071.79 646.11 L1072.06 646.17 L1072.32 646.22 L1072.58 646.28 L1072.84 646.33 L1073.10 646.39 L1073.37 646.44 L1073.63 646.50 L1073.89 646.55 L1074.15 646.60 L1074.41 646.66 L1074.68 646.71 L1074.94 646.77 L1075.20 646.82 L1075.46 646.88 L1075.73 646.93 L1075.99 646.99 L1076.25 647.04 L1076.51 647.10 L1076.77 647.15 L1077.04 647.20 L1077.30 647.26 L1077.56 647.31 L1077.82 647.37 L1078.08 647.42 L1078.35 647.48 L1078.61 647.53 L1078.87 647.59 L1079.13 647.64 L1079.39 647.70 L1079.66 647.75 L1079.92 647.81 L1080.18 647.86 L1080.44 647.92 L1080.71 647.97 L1080.97 648.03 L1081.23 648.08 L1081.49 648.14 L1081.75 648.19 L1082.02 648.25 L1082.28 648.30 L1082.54 648.36 L1082.80 648.41 L1083.06 648.47 L1083.33 648.52 L1083.59 648.58 L1083.85 648.63 L1084.11 648.69 L1084.38 648.74 L1084.64 648.80 L1084.90 648.85 L1085.16 648.91 L1085.42 648.96 L1085.69 649.02 L1085.95 649.07 L1086.21 649.13 L1086.47 649.18 L1086.73 649.24 L1087.00 649.30 L1087.26 649.35 L1087.52 649.41 L1087.78 649.46 L1088.04 649.52 L1088.31 649.57 L1088.57 649.63 L1088.83 649.68 L1089.09 649.74 L1089.36 649.79 L1089.62 649.85 L1089.88 649.91 L1090.14 649.96 L1090.40 650.02 L1090.67 650.07 L1090.93 650.13 L1091.19 650.18 L1091.45 650.24 L1091.71 650.29 L1091.98 650.35 L1092.24 650.41 L1092.50 650.46 L1092.76 650.52 L1093.03 650.57 L1093.29 650.63 L1093.55 650.68 L1093.81 650.74 L1094.07 650.80 L1094.34 650.85 L1094.60 650.91 L1094.86 650.96 L1095.12 651.02" fill="none" stroke="#FF7F00" stroke-width="7.4" stroke-linecap="round" stroke-dasharray="0 15.746"/>
<path d="M356.41 691.57 L363.47 675.50 L371.73 658.50 L374.63 653.19 M403.74 604.70 L417.43 582.50 L426.73 570.71 M467.26 528.62 L475.69 522.00 L502.97 522.00 M549.48 560.62 L583.90 582.00 L591.34 581.26 M645.50 573.91 L669.69 539.70 M703.88 491.37 L728.19 457.00 L729.69 454.28 M758.46 402.32 L778.76 365.66 M806.81 315.01 L827.35 277.92 M854.95 228.41 L881.58 197.63 M921.56 151.43 L944.61 124.80 L958.21 122.54 M1015.42 113.02 L1060.30 105.56 M386.83 631.26 L389.80 626.04 M443.98 550.08 L447.92 545.55 M522.82 539.41 L527.26 543.45 M618.71 578.53 L624.68 577.93 M685.05 517.98 L688.52 513.09 M742.67 430.84 L745.58 425.59 M791.45 342.74 L794.36 337.49 M840.81 253.60 L843.72 248.35 M899.97 176.38 L903.90 171.85 M985.43 118.01 L991.35 117.03" fill="none" stroke="#006400" stroke-width="7" stroke-linecap="round" stroke-linejoin="round"/>
<path d="M441.26 589.45 L444.45 594.53 M459.63 620.02 L462.56 625.26 M485.58 659.80 L489.64 664.22 M517.45 677.37 L523.39 676.49 M547.98 663.46 L551.83 658.85 M588.35 607.36 L590.31 601.69 M603.80 562.44 L605.76 556.77 M619.25 517.53 L621.20 511.85 M634.70 472.61 L636.65 466.94 M649.03 431.86 L651.10 426.23 M665.43 387.28 L667.50 381.65 M681.82 342.70 L683.89 337.07 M698.22 298.12 L700.29 292.49 M714.62 253.54 L716.69 247.91 M739.31 208.08 L744.07 204.43 M777.01 179.18 L781.77 175.53 M814.70 150.28 L819.46 146.63 M867.92 122.78 L873.80 123.97 M914.47 132.22 L920.36 133.41 M957.90 142.35 L963.64 144.09 M1003.37 156.09 L1009.11 157.83 M1048.84 169.84 L1051.20 170.55" fill="none" stroke="#0000FF" stroke-width="7" stroke-linecap="round"/>
<path d="M355.70 542.00 L359.00 548.83 L366.78 549.74 L361.04 554.87 L362.55 562.26 L355.70 558.60 L348.85 562.26 L350.36 554.87 L344.62 549.74 L352.40 548.83Z M363.50 535.50 L366.80 542.33 L374.58 543.24 L368.84 548.37 L370.35 555.76 L363.50 552.10 L356.65 555.76 L358.16 548.37 L352.42 543.24 L360.20 542.33Z M371.70 535.50 L375.00 542.33 L382.78 543.24 L377.04 548.37 L378.55 555.76 L371.70 552.10 L364.85 555.76 L366.36 548.37 L360.62 543.24 L368.40 542.33Z M381.20 541.90 L384.50 548.73 L392.28 549.64 L386.54 554.77 L388.05 562.16 L381.20 558.50 L374.35 562.16 L375.86 554.77 L370.12 549.64 L377.90 548.73Z M391.70 547.40 L395.00 554.23 L402.78 555.14 L397.04 560.27 L398.55 567.66 L391.70 564.00 L384.85 567.66 L386.36 560.27 L380.62 555.14 L388.40 554.23Z M403.70 554.40 L407.00 561.23 L414.78 562.14 L409.04 567.27 L410.55 574.66 L403.70 571.00 L396.85 574.66 L398.36 567.27 L392.62 562.14 L400.40 561.23Z M417.60 559.80 L420.90 566.63 L428.68 567.54 L422.94 572.67 L424.45 580.06 L417.60 576.40 L410.75 580.06 L412.26 572.67 L406.52 567.54 L414.30 566.63Z M433.80 566.00 L437.10 572.83 L444.88 573.74 L439.14 578.87 L440.65 586.26 L433.80 582.60 L426.95 586.26 L428.46 578.87 L422.72 573.74 L430.50 572.83Z M452.80 596.20 L456.10 603.03 L463.88 603.94 L458.14 609.07 L459.65 616.46 L452.80 612.80 L445.95 616.46 L447.46 609.07 L441.72 603.94 L449.50 603.03Z M476.10 637.90 L479.40 644.73 L487.18 645.64 L481.44 650.77 L482.95 658.16 L476.10 654.50 L469.25 658.16 L470.76 650.77 L465.02 645.64 L472.80 644.73Z M503.60 667.80 L506.90 674.63 L514.68 675.54 L508.94 680.67 L510.45 688.06 L503.60 684.40 L496.75 688.06 L498.26 680.67 L492.52 675.54 L500.30 674.63Z M539.00 662.60 L542.30 669.43 L550.08 670.34 L544.34 675.47 L545.85 682.86 L539.00 679.20 L532.15 682.86 L533.66 675.47 L527.92 670.34 L535.70 669.43Z M583.80 609.00 L587.10 615.83 L594.88 616.74 L589.14 621.87 L590.65 629.26 L583.80 625.60 L576.95 629.26 L578.46 621.87 L572.72 616.74 L580.50 615.83Z M644.20 433.40 L647.50 440.23 L655.28 441.14 L649.54 446.27 L651.05 453.66 L644.20 450.00 L637.35 453.66 L638.86 446.27 L633.12 441.14 L640.90 440.23Z M728.20 205.00 L731.50 211.83 L739.28 212.74 L733.54 217.87 L735.05 225.26 L728.20 221.60 L721.35 225.26 L722.86 217.87 L717.12 212.74 L724.90 211.83Z M854.20 108.40 L857.50 115.23 L865.28 116.14 L859.54 121.27 L861.05 128.66 L854.20 125.00 L847.35 128.66 L848.86 121.27 L843.12 116.14 L850.90 115.23Z M944.50 126.70 L947.80 133.53 L955.58 134.44 L949.84 139.57 L951.35 146.96 L944.50 143.30 L937.65 146.96 L939.16 139.57 L933.42 134.44 L941.20 133.53Z M1064.60 163.00 L1067.90 169.83 L1075.68 170.74 L1069.94 175.87 L1071.45 183.26 L1064.60 179.60 L1057.75 183.26 L1059.26 175.87 L1053.52 170.74 L1061.30 169.83Z" fill="#0000FF"/>
<g stroke="#006400" stroke-width="3.6" fill="none">
<line x1="111.2" y1="16.599999999999998" x2="111.2" y2="741.4"/>
<line x1="95.7" y1="659.47" x2="111.2" y2="659.47"/>
<line x1="95.7" y1="499.20" x2="111.2" y2="499.20"/>
<line x1="95.7" y1="338.93" x2="111.2" y2="338.93"/>
<line x1="95.7" y1="178.67" x2="111.2" y2="178.67"/>
<line x1="95.7" y1="18.40" x2="111.2" y2="18.40"/>
<line x1="103.7" y1="739.60" x2="111.2" y2="739.60"/>
<line x1="103.7" y1="579.33" x2="111.2" y2="579.33"/>
<line x1="103.7" y1="419.07" x2="111.2" y2="419.07"/>
<line x1="103.7" y1="258.80" x2="111.2" y2="258.80"/>
<line x1="103.7" y1="98.53" x2="111.2" y2="98.53"/>
</g>
<g stroke="#FF7F00" stroke-width="3.6" fill="none">
<line x1="223.5" y1="16.599999999999998" x2="223.5" y2="741.4"/>
<line x1="207.5" y1="739.60" x2="223.5" y2="739.60"/>
<line x1="207.5" y1="628.65" x2="223.5" y2="628.65"/>
<line x1="207.5" y1="517.69" x2="223.5" y2="517.69"/>
<line x1="207.5" y1="406.74" x2="223.5" y2="406.74"/>
<line x1="207.5" y1="295.78" x2="223.5" y2="295.78"/>
<line x1="207.5" y1="184.83" x2="223.5" y2="184.83"/>
<line x1="207.5" y1="73.88" x2="223.5" y2="73.88"/>
<line x1="215.5" y1="684.12" x2="223.5" y2="684.12"/>
<line x1="215.5" y1="573.17" x2="223.5" y2="573.17"/>
<line x1="215.5" y1="462.22" x2="223.5" y2="462.22"/>
<line x1="215.5" y1="351.26" x2="223.5" y2="351.26"/>
<line x1="215.5" y1="240.31" x2="223.5" y2="240.31"/>
<line x1="215.5" y1="129.35" x2="223.5" y2="129.35"/>
<line x1="215.5" y1="18.40" x2="223.5" y2="18.40"/>
</g>
<g stroke="#0000FF" stroke-width="3.6" fill="none">
<line x1="1241.0" y1="16.599999999999998" x2="1241.0" y2="741.4"/>
<line x1="1241.0" y1="739.60" x2="1257.0" y2="739.60"/>
<line x1="1241.0" y1="619.40" x2="1257.0" y2="619.40"/>
<line x1="1241.0" y1="499.20" x2="1257.0" y2="499.20"/>
<line x1="1241.0" y1="379.00" x2="1257.0" y2="379.00"/>
<line x1="1241.0" y1="258.80" x2="1257.0" y2="258.80"/>
<line x1="1241.0" y1="138.60" x2="1257.0" y2="138.60"/>
<line x1="1241.0" y1="18.40" x2="1257.0" y2="18.40"/>
<line x1="1241.0" y1="679.50" x2="1249.5" y2="679.50"/>
<line x1="1241.0" y1="559.30" x2="1249.5" y2="559.30"/>
<line x1="1241.0" y1="439.10" x2="1249.5" y2="439.10"/>
<line x1="1241.0" y1="318.90" x2="1249.5" y2="318.90"/>
<line x1="1241.0" y1="198.70" x2="1249.5" y2="198.70"/>
<line x1="1241.0" y1="78.50" x2="1249.5" y2="78.50"/>
</g>
<g stroke="#000" stroke-width="3.6" fill="none">
<line x1="225.3" y1="18.4" x2="1239.2" y2="18.4"/>
<line x1="225.3" y1="739.6" x2="1239.2" y2="739.6"/>
<line x1="223.50" y1="741.4" x2="223.50" y2="755.1"/>
<line x1="386.42" y1="741.4" x2="386.42" y2="755.1"/>
<line x1="549.34" y1="741.4" x2="549.34" y2="755.1"/>
<line x1="712.26" y1="741.4" x2="712.26" y2="755.1"/>
<line x1="875.18" y1="741.4" x2="875.18" y2="755.1"/>
<line x1="1038.10" y1="741.4" x2="1038.10" y2="755.1"/>
<line x1="1201.02" y1="741.4" x2="1201.02" y2="755.1"/>
<line x1="304.96" y1="741.4" x2="304.96" y2="747.1"/>
<line x1="467.88" y1="741.4" x2="467.88" y2="747.1"/>
<line x1="630.80" y1="741.4" x2="630.80" y2="747.1"/>
<line x1="793.72" y1="741.4" x2="793.72" y2="747.1"/>
<line x1="956.64" y1="741.4" x2="956.64" y2="747.1"/>
<line x1="1119.56" y1="741.4" x2="1119.56" y2="747.1"/>
</g>
<text transform="translate(84.50 669.77) scale(1.0 1.085)" font-family="&apos;Liberation Sans&apos;, sans-serif" font-weight="bold" font-size="33.5" fill="#006400" text-anchor="end">2.0</text>
<text transform="translate(84.50 509.50) scale(1.0 1.085)" font-family="&apos;Liberation Sans&apos;, sans-serif" font-weight="bold" font-size="33.5" fill="#006400" text-anchor="end">2.5</text>
<text transform="translate(84.50 349.23) scale(1.0 1.085)" font-family="&apos;Liberation Sans&apos;, sans-serif" font-weight="bold" font-size="33.5" fill="#006400" text-anchor="end">3.0</text>
<text transform="translate(84.50 188.97) scale(1.0 1.085)" font-family="&apos;Liberation Sans&apos;, sans-serif" font-weight="bold" font-size="33.5" fill="#006400" text-anchor="end">3.5</text>
<text transform="translate(84.50 28.70) scale(1.0 1.085)" font-family="&apos;Liberation Sans&apos;, sans-serif" font-weight="bold" font-size="33.5" fill="#006400" text-anchor="end">4.0</text>
<text transform="translate(196.50 749.90) scale(1.0 1.085)" font-family="&apos;Liberation Sans&apos;, sans-serif" font-weight="bold" font-size="33.5" fill="#FF7F00" text-anchor="end">1.42</text>
<text transform="translate(196.50 638.95) scale(1.0 1.085)" font-family="&apos;Liberation Sans&apos;, sans-serif" font-weight="bold" font-size="33.5" fill="#FF7F00" text-anchor="end">1.44</text>
<text transform="translate(196.50 527.99) scale(1.0 1.085)" font-family="&apos;Liberation Sans&apos;, sans-serif" font-weight="bold" font-size="33.5" fill="#FF7F00" text-anchor="end">1.46</text>
<text transform="translate(196.50 417.04) scale(1.0 1.085)" font-family="&apos;Liberation Sans&apos;, sans-serif" font-weight="bold" font-size="33.5" fill="#FF7F00" text-anchor="end">1.48</text>
<text transform="translate(196.50 306.08) scale(1.0 1.085)" font-family="&apos;Liberation Sans&apos;, sans-serif" font-weight="bold" font-size="33.5" fill="#FF7F00" text-anchor="end">1.50</text>
<text transform="translate(196.50 195.13) scale(1.0 1.085)" font-family="&apos;Liberation Sans&apos;, sans-serif" font-weight="bold" font-size="33.5" fill="#FF7F00" text-anchor="end">1.52</text>
<text transform="translate(196.50 84.18) scale(1.0 1.085)" font-family="&apos;Liberation Sans&apos;, sans-serif" font-weight="bold" font-size="33.5" fill="#FF7F00" text-anchor="end">1.54</text>
<text transform="translate(1269.00 749.90) scale(1.0 1.085)" font-family="&apos;Liberation Sans&apos;, sans-serif" font-weight="bold" font-size="33.5" fill="#0000FF" text-anchor="start">0.6</text>
<text transform="translate(1269.00 629.70) scale(1.0 1.085)" font-family="&apos;Liberation Sans&apos;, sans-serif" font-weight="bold" font-size="33.5" fill="#0000FF" text-anchor="start">0.8</text>
<text transform="translate(1269.00 509.50) scale(1.0 1.085)" font-family="&apos;Liberation Sans&apos;, sans-serif" font-weight="bold" font-size="33.5" fill="#0000FF" text-anchor="start">1.0</text>
<text transform="translate(1269.00 389.30) scale(1.0 1.085)" font-family="&apos;Liberation Sans&apos;, sans-serif" font-weight="bold" font-size="33.5" fill="#0000FF" text-anchor="start">1.2</text>
<text transform="translate(1269.00 269.10) scale(1.0 1.085)" font-family="&apos;Liberation Sans&apos;, sans-serif" font-weight="bold" font-size="33.5" fill="#0000FF" text-anchor="start">1.4</text>
<text transform="translate(1269.00 148.90) scale(1.0 1.085)" font-family="&apos;Liberation Sans&apos;, sans-serif" font-weight="bold" font-size="33.5" fill="#0000FF" text-anchor="start">1.6</text>
<text transform="translate(1269.00 28.70) scale(1.0 1.085)" font-family="&apos;Liberation Sans&apos;, sans-serif" font-weight="bold" font-size="33.5" fill="#0000FF" text-anchor="start">1.8</text>
<text transform="translate(224.00 793.50) scale(1.0 1.085)" font-family="&apos;Liberation Sans&apos;, sans-serif" font-weight="bold" font-size="33.5" fill="#000" text-anchor="middle">0</text>
<text transform="translate(386.92 793.50) scale(1.0 1.085)" font-family="&apos;Liberation Sans&apos;, sans-serif" font-weight="bold" font-size="33.5" fill="#000" text-anchor="middle">400</text>
<text transform="translate(549.84 793.50) scale(1.0 1.085)" font-family="&apos;Liberation Sans&apos;, sans-serif" font-weight="bold" font-size="33.5" fill="#000" text-anchor="middle">800</text>
<text transform="translate(712.76 793.50) scale(1.0 1.085)" font-family="&apos;Liberation Sans&apos;, sans-serif" font-weight="bold" font-size="33.5" fill="#000" text-anchor="middle">1200</text>
<text transform="translate(875.68 793.50) scale(1.0 1.085)" font-family="&apos;Liberation Sans&apos;, sans-serif" font-weight="bold" font-size="33.5" fill="#000" text-anchor="middle">1600</text>
<text transform="translate(1038.60 793.50) scale(1.0 1.085)" font-family="&apos;Liberation Sans&apos;, sans-serif" font-weight="bold" font-size="33.5" fill="#000" text-anchor="middle">2000</text>
<text transform="translate(1201.52 793.50) scale(1.0 1.085)" font-family="&apos;Liberation Sans&apos;, sans-serif" font-weight="bold" font-size="33.5" fill="#000" text-anchor="middle">2400</text>
<text transform="translate(715.50 858.00) scale(1.006 1.09)" font-family="&apos;Liberation Sans&apos;, sans-serif" font-weight="bold" font-size="42.5" fill="#000" text-anchor="middle">Wavelength (nm)</text>
<text transform="translate(26.4 323.0) rotate(-90)" font-family="&apos;Liberation Sans&apos;, sans-serif" font-weight="bold" font-size="41.8" fill="#000" text-anchor="middle">n</text>
<text transform="translate(1364 335.2) rotate(-90)" font-family="&apos;Liberation Sans&apos;, sans-serif" font-weight="bold" font-size="43" fill="#000" text-anchor="middle">K</text>
<circle cx="910.20" cy="363.8" r="3.7" fill="#FF7F00"/>
<circle cx="925.90" cy="363.8" r="3.7" fill="#FF7F00"/>
<circle cx="941.60" cy="363.8" r="3.7" fill="#FF7F00"/>
<circle cx="957.30" cy="363.8" r="3.7" fill="#FF7F00"/>
<circle cx="973.00" cy="363.8" r="3.7" fill="#FF7F00"/>
<circle cx="988.70" cy="363.8" r="3.7" fill="#FF7F00"/>
<path d="M910.1 421 L951.7 421 M979.2 421 L983.8 421" stroke="#006400" stroke-width="7" stroke-linecap="round"/>
<path d="M910.4 469.5 L915.6 469.5 M965.9 469.5 L971.9 469.5" stroke="#0000FF" stroke-width="7" stroke-linecap="round"/>
<path d="M952.40 458.70 L955.70 465.53 L963.48 466.44 L957.74 471.57 L959.25 478.96 L952.40 475.30 L945.55 478.96 L947.06 471.57 L941.32 466.44 L949.10 465.53Z" fill="#0000FF"/>
<text transform="translate(1006.00 376.50) scale(1.04 1.0)" font-family="&apos;Liberation Sans&apos;, sans-serif" font-weight="bold" font-size="37" fill="#000" text-anchor="start">SiO<tspan font-size="25.5" dy="10.2">2</tspan><tspan dy="-10.2"> (n)</tspan></text>
<text transform="translate(1006.00 433.60) scale(1.035 1.0)" font-family="&apos;Liberation Sans&apos;, sans-serif" font-weight="bold" font-size="37" fill="#000" text-anchor="start">Carbon (n)</text>
<text transform="translate(1006.00 481.00) scale(1.035 1.0)" font-family="&apos;Liberation Sans&apos;, sans-serif" font-weight="bold" font-size="37" fill="#000" text-anchor="start">Carbon</text>
<text x="1178.5" y="481" font-family="&apos;Liberation Sans&apos;, sans-serif" font-weight="bold" font-size="37" fill="#000">k</text>
<path d="M1171.5 455 Q1157 468.5 1171.5 482 M1207.5 455 Q1222 468.5 1207.5 482" fill="none" stroke="#000" stroke-width="2.6"/>
</svg></body></html>
